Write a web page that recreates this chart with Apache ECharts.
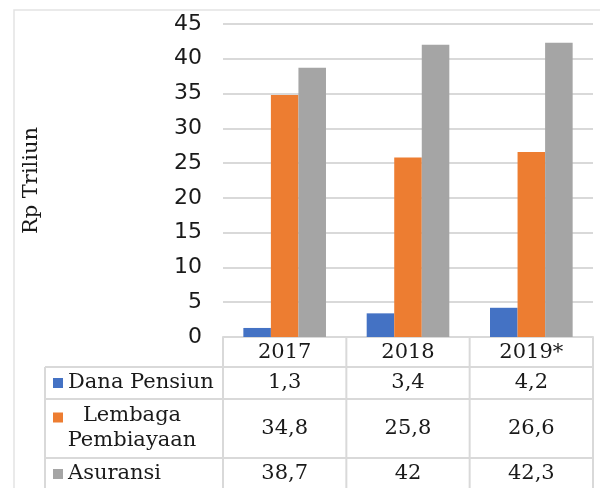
<!DOCTYPE html>
<html>
<head>
<meta charset="utf-8">
<script src="https://cdn.jsdelivr.net/npm/echarts@6/dist/echarts.min.js"></script>
<style>
html,body{margin:0;padding:0;background:#fff;}
#c{width:600px;height:488px;}
</style>
</head>
<body>
<div id="c"></div>
<script>
var categories = ['2017', '2018', '2019*'];
var seriesNames = ['Dana Pensiun', 'Lembaga Pembiayaan', 'Asuransi'];
var danaPensiun = [1.3, 3.4, 4.2];
var lembagaPembiayaan = [34.8, 25.8, 26.6];
var asuransi = [38.7, 42, 42.3];
var yTicks = [0, 5, 10, 15, 20, 25, 30, 35, 40, 45];

var colors = ['#4472C4', '#ED7D31', '#A5A5A5'];
var allValues = [danaPensiun, lembagaPembiayaan, asuransi];
var serif = '"DejaVu Serif", serif';
var sans = '"DejaVu Sans", sans-serif';
var lineCol = '#d9d9d9';
var txtCol = '#1a1a1a';
var fs = 21;

var chart = echarts.init(document.getElementById('c'));
chart.setOption({
  animation: false,
  grid: { left: 223, right: 7, top: 24, bottom: 151 },
  xAxis: {
    type: 'category',
    data: categories,
    axisLine: { show: true, lineStyle: { color: lineCol, width: 2 } },
    axisTick: { show: false },
    axisLabel: { fontFamily: serif, fontSize: fs, color: txtCol, margin: 5 }
  },
  yAxis: {
    type: 'value',
    min: yTicks[0], max: yTicks[yTicks.length - 1], interval: 5,
    name: 'Rp Triliun',
    nameLocation: 'middle',
    nameRotate: 90,
    nameGap: 181,
    nameTextStyle: { fontFamily: serif, fontSize: fs, color: txtCol },
    axisLine: { show: false },
    axisTick: { show: false },
    splitLine: { lineStyle: { color: lineCol, width: 2 } },
    axisLabel: { fontFamily: sans, fontSize: 22, color: txtCol, margin: 21 }
  },
  series: seriesNames.map(function (n, i) {
    return {
      name: n, type: 'bar', data: allValues[i],
      barGap: '0%', barCategoryGap: '33%',
      itemStyle: { color: colors[i] }
    };
  })
});

function fmt(v) { return String(v).replace('.', ','); }

var c0 = chart.convertToPixel({ xAxisIndex: 0 }, 0);
var c1 = chart.convertToPixel({ xAxisIndex: 0 }, 1);
var band = c1 - c0;
var y0 = chart.convertToPixel({ yAxisIndex: 0 }, 0);
var xL = c0 - band / 2;
var xR = xL + band * categories.length;
var legendL = 45;
var rowH = [y0, y0 + 30, y0 + 62, y0 + 121, y0 + 165];
var els = [];
function line(x1, y1, x2, y2) {
  els.push({ type: 'line', shape: { x1: x1, y1: y1, x2: x2, y2: y2 }, style: { stroke: lineCol, lineWidth: 2 }, silent: true });
}
// outer chart border
els.push({ type: 'rect', shape: { x: 14, y: 10, width: 620, height: 520 }, style: { fill: null, stroke: '#e3e3e3', lineWidth: 1.5 }, silent: true, z: -10 });
// horizontal table lines
for (var r = 1; r < 4; r++) line(legendL, rowH[r], xR, rowH[r]);
// vertical lines
line(legendL, rowH[1], legendL, rowH[4]);
for (var k = 0; k <= categories.length; k++) line(xL + band * k, rowH[0], xL + band * k, rowH[4]);
// legend cells + values
var rowCenters = [rowH[1] + 16, (rowH[2] + rowH[3]) / 2, rowH[3] + 16];
for (var s = 0; s < seriesNames.length; s++) {
  var cy = rowCenters[s];
  var my = s === 1 ? cy - 11 : cy;
  els.push({ type: 'rect', shape: { x: 53, y: my - 5, width: 10, height: 10 }, style: { fill: colors[s] }, silent: true });
  if (s === 1) {
    els.push({ type: 'text', x: 132, y: cy, style: { text: 'Lembaga\nPembiayaan', fontFamily: serif, fontSize: fs, fill: txtCol, align: 'center', verticalAlign: 'middle', lineHeight: 25 }, silent: true });
  } else {
    els.push({ type: 'text', x: 68, y: cy, style: { text: seriesNames[s], fontFamily: serif, fontSize: fs, fill: txtCol, align: 'left', verticalAlign: 'middle' }, silent: true });
  }
  for (var j = 0; j < categories.length; j++) {
    els.push({ type: 'text', x: chart.convertToPixel({ xAxisIndex: 0 }, j), y: cy, style: { text: fmt(allValues[s][j]), fontFamily: serif, fontSize: fs, fill: txtCol, align: 'center', verticalAlign: 'middle' }, silent: true });
  }
}
chart.setOption({ graphic: { elements: els } });
</script>
</body>
</html>
